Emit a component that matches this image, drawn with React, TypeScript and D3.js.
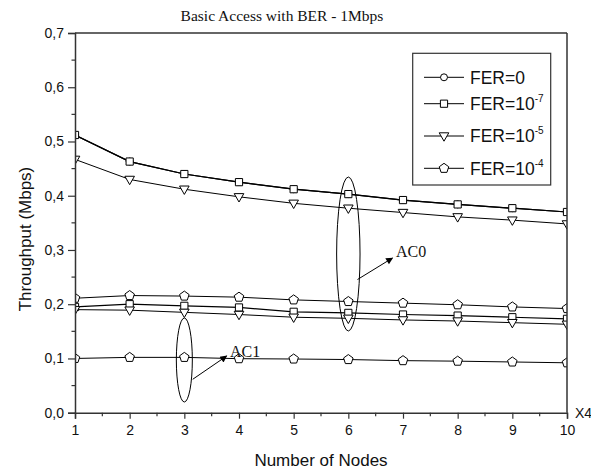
import { useRef, useEffect } from 'react';
import * as d3 from 'd3';

// Number of nodes (x4)
const nodes = [1, 2, 3, 4, 5, 6, 7, 8, 9, 10];

// AC0 curves
const fer0Ac0 = [0.512, 0.463, 0.440, 0.425, 0.412, 0.403, 0.392, 0.384, 0.377, 0.370];
const fer7Ac0 = [0.512, 0.463, 0.440, 0.425, 0.412, 0.403, 0.392, 0.384, 0.377, 0.370];
const fer5Ac0 = [0.467, 0.430, 0.412, 0.398, 0.386, 0.377, 0.369, 0.361, 0.355, 0.348];
const fer4Ac0 = [0.211, 0.216, 0.215, 0.213, 0.208, 0.205, 0.202, 0.199, 0.195, 0.192];
// AC1 curves
const fer7Ac1 = [0.195, 0.200, 0.197, 0.194, 0.186, 0.184, 0.181, 0.179, 0.176, 0.173];
const fer5Ac1 = [0.190, 0.189, 0.185, 0.181, 0.176, 0.174, 0.171, 0.169, 0.166, 0.163];
const fer4Ac1 = [0.100, 0.102, 0.102, 0.0996, 0.099, 0.098, 0.096, 0.095, 0.0935, 0.092];

const yTicks = [0, 0.1, 0.2, 0.3, 0.4, 0.5, 0.6, 0.7];
const legendItems = [
    { sym: 'circle', base: 'FER=0', sup: '' },
    { sym: 'square', base: 'FER=10', sup: '-7' },
    { sym: 'triangle', base: 'FER=10', sup: '-5' },
    { sym: 'pentagon', base: 'FER=10', sup: '-4' },
];

const series = [
    { values: fer0Ac0, sym: 'circle', w: 1.2 },
    { values: fer7Ac0, sym: 'square', w: 1.2 },
    { values: fer5Ac0, sym: 'triangle', w: 1 },
    { values: fer4Ac0, sym: 'pentagon', w: 1 },
    { values: fer7Ac1, sym: 'square', w: 1.2 },
    { values: fer5Ac1, sym: 'triangle', w: 1 },
    { values: fer4Ac1, sym: 'pentagon', w: 1 },
];

const sans = '"Liberation Sans", Arial, sans-serif';
const serif = '"Liberation Serif", "Times New Roman", serif';

const symbolPath: Record<string, string> = {
    circle: d3.symbol(d3.symbolCircle, 38)()!,
    square: d3.symbol(d3.symbolSquare, 52)()!,
    triangle: 'M-4.8,-3.2L4.8,-3.2L0,5.2Z',
    pentagon: (() => {
        const r = 5;
        const pts = d3.range(5).map(i => {
            const a = -Math.PI / 2 + i * 2 * Math.PI / 5;
            return [r * Math.cos(a), r * Math.sin(a)];
        });
        return 'M' + pts.map(p => p.join(',')).join('L') + 'Z';
    })(),
};

export default function App() {
    const svgRef = useRef<SVGSVGElement>(null);

    useEffect(() => {
        if (!svgRef.current) return;
        const width = 599;
        const height = 474;
        const m = { left: 75, right: 567, top: 33, bottom: 412.7 };

        const svg = d3.select(svgRef.current);
        svg.selectAll('*').remove();
        svg.attr('width', width).attr('height', height);

        const x = d3.scaleLinear().domain([1, 10]).range([m.left, m.right]);
        const y = d3.scaleLinear().domain([0, 0.7]).range([m.bottom, m.top]);

        const axisColor = '#333';

        svg.append('defs').append('clipPath').attr('id', 'plotclip')
            .append('rect')
            .attr('x', m.left).attr('y', m.top)
            .attr('width', m.right - m.left).attr('height', m.bottom - m.top);

        // title
        svg.append('text')
            .attr('x', 282).attr('y', 21)
            .attr('text-anchor', 'middle')
            .attr('font-family', serif)
            .attr('font-size', '15.5px')
            .attr('fill', '#111')
            .text('Basic Access with BER - 1Mbps');

        // series
        const plot = svg.append('g').attr('clip-path', 'url(#plotclip)');
        const line = d3.line<number>().x((_, i) => x(nodes[i])).y(d => y(d));
        series.forEach(s => {
            plot.append('path')
                .attr('d', line(s.values))
                .attr('fill', 'none')
                .attr('stroke', '#000')
                .attr('stroke-width', s.w);
        });
        series.forEach(s => {
            plot.selectAll(null)
                .data(s.values)
                .enter()
                .append('path')
                .attr('d', symbolPath[s.sym])
                .attr('transform', (d, i) => `translate(${x(nodes[i])},${y(d)})`)
                .attr('fill', '#fff')
                .attr('stroke', '#000')
                .attr('stroke-width', 1);
        });

        // frame
        const frame = svg.append('g').attr('stroke', axisColor).attr('stroke-width', 1.5).attr('fill', 'none');
        frame.append('line').attr('x1', m.left).attr('x2', m.right).attr('y1', m.top).attr('y2', m.top);
        frame.append('line').attr('x1', m.right).attr('x2', m.right).attr('y1', m.top).attr('y2', m.bottom);

        // x axis
        const xAxis = svg.append('g').attr('transform', `translate(0,${m.bottom})`)
            .call(d3.axisBottom(x).tickValues(nodes).tickSize(6).tickPadding(6).tickFormat(d3.format('d')));
        xAxis.select('.domain').attr('stroke', axisColor).attr('stroke-width', 1.5);
        xAxis.selectAll('.tick line').attr('stroke', axisColor).attr('stroke-width', 1.2);
        xAxis.selectAll('.tick text')
            .attr('font-family', sans)
            .attr('font-size', '14px').attr('fill', '#111');
        svg.append('g').selectAll('line')
            .data(nodes.slice(0, -1).map(n => n + 0.5))
            .enter().append('line')
            .attr('x1', d => x(d)).attr('x2', d => x(d))
            .attr('y1', m.bottom).attr('y2', m.bottom + 3.5)
            .attr('stroke', axisColor).attr('stroke-width', 1.2);

        // y axis
        const yAxis = svg.append('g').attr('transform', `translate(${m.left},0)`)
            .call(d3.axisLeft(y).tickValues(yTicks).tickSize(7).tickPadding(4)
                .tickFormat(d => d3.format('.1f')(d as number).replace('.', ',')));
        yAxis.select('.domain').attr('stroke', axisColor).attr('stroke-width', 1.5);
        yAxis.selectAll('.tick line').attr('stroke', axisColor).attr('stroke-width', 1.2);
        yAxis.selectAll('.tick text')
            .attr('font-family', sans)
            .attr('font-size', '14px').attr('fill', '#111');
        svg.append('g').selectAll('line')
            .data(yTicks.slice(0, -1).map(v => v + 0.05))
            .enter().append('line')
            .attr('x1', m.left - 3.5).attr('x2', m.left)
            .attr('y1', d => y(d)).attr('y2', d => y(d))
            .attr('stroke', axisColor).attr('stroke-width', 1.2);

        // X4
        svg.append('text')
            .attr('x', 575).attr('y', 418)
            .attr('font-family', sans)
            .attr('font-size', '14px').attr('fill', '#111')
            .text('X4');

        // axis titles
        svg.append('text')
            .attr('x', 321).attr('y', 466)
            .attr('text-anchor', 'middle')
            .attr('font-family', sans)
            .attr('font-size', '17px').attr('fill', '#111')
            .text('Number of Nodes');
        svg.append('text')
            .attr('transform', `translate(31,239) rotate(-90)`)
            .attr('text-anchor', 'middle')
            .attr('font-family', sans)
            .attr('font-size', '17px').attr('fill', '#111')
            .text('Throughput (Mbps)');

        // annotations
        const defs = svg.select('defs');
        defs.append('marker')
            .attr('id', 'arrow').attr('viewBox', '0 0 10 10')
            .attr('refX', 9).attr('refY', 5)
            .attr('markerWidth', 9).attr('markerHeight', 7)
            .attr('markerUnits', 'userSpaceOnUse')
            .attr('orient', 'auto')
            .append('path').attr('d', 'M0,0L10,5L0,10Z').attr('fill', '#000');

        const ann = svg.append('g');
        ann.append('ellipse')
            .attr('cx', x(6)).attr('cy', 254).attr('rx', 11.7).attr('ry', 77)
            .attr('fill', 'none').attr('stroke', '#000').attr('stroke-width', 1);
        ann.append('line')
            .attr('x1', 357.5).attr('y1', 279.5).attr('x2', 392.5).attr('y2', 258)
            .attr('stroke', '#000').attr('stroke-width', 1).attr('marker-end', 'url(#arrow)');
        ann.append('text')
            .attr('x', 396).attr('y', 257)
            .attr('font-family', serif)
            .attr('font-size', '16px').attr('fill', '#111')
            .text('AC0');

        ann.append('ellipse')
            .attr('cx', x(3)).attr('cy', 360).attr('rx', 8).attr('ry', 42)
            .attr('fill', 'none').attr('stroke', '#000').attr('stroke-width', 1);
        ann.append('line')
            .attr('x1', 192.7).attr('y1', 379.3).attr('x2', 226.7).attr('y2', 356)
            .attr('stroke', '#000').attr('stroke-width', 1).attr('marker-end', 'url(#arrow)');
        ann.append('text')
            .attr('x', 230).attr('y', 357)
            .attr('font-family', serif)
            .attr('font-size', '16px').attr('fill', '#111')
            .text('AC1');

        // legend
        const lg = svg.append('g');
        lg.append('rect')
            .attr('x', 412.7).attr('y', 53.3).attr('width', 138).attr('height', 131.7)
            .attr('fill', '#fff').attr('stroke', axisColor).attr('stroke-width', 1.2);
        const legendY = [77.3, 103.7, 136, 168.3];
        legendItems.forEach((it, i) => {
            const ly = legendY[i];
            lg.append('line')
                .attr('x1', 424).attr('x2', 464).attr('y1', ly).attr('y2', ly)
                .attr('stroke', '#000').attr('stroke-width', 1);
            lg.append('path')
                .attr('d', symbolPath[it.sym])
                .attr('transform', `translate(444,${ly})`)
                .attr('fill', '#fff').attr('stroke', '#000').attr('stroke-width', 1);
            const t = lg.append('text')
                .attr('x', 470).attr('y', ly + 6.3)
                .attr('font-family', sans)
                .attr('font-size', '17.5px').attr('fill', '#111')
                .text(it.base);
            if (it.sup) {
                t.append('tspan')
                    .attr('dy', -8).attr('font-size', '10px')
                    .text(it.sup);
            }
        });
    }, []);

    return (
        <div style={{ margin: '-8px' }}>
            <svg ref={svgRef} style={{ display: 'block', width: '599px', height: '474px', background: '#fff' }} />
        </div>
    );
}
